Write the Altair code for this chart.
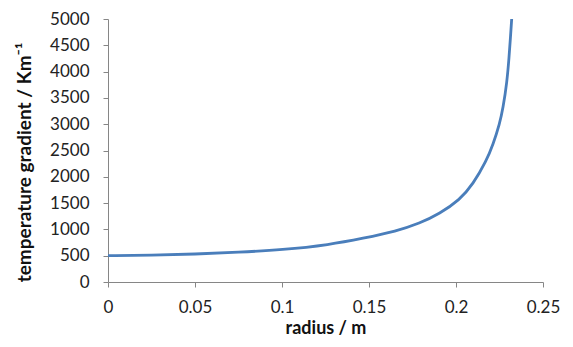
import altair as alt
import pandas as pd

radius = [0, 0.025, 0.05, 0.075, 0.1, 0.1274, 0.1466, 0.1657, 0.1791, 0.1906,
          0.2021, 0.2098, 0.2175, 0.2213, 0.2251, 0.2270, 0.2293, 0.2305, 0.2313, 0.2320]
gradient = [500, 508, 530, 565, 611, 708, 830, 967, 1115, 1300,
            1560, 1860, 2306, 2614, 3010, 3300, 3800, 4275, 4650, 5000]

df = pd.DataFrame({"radius": radius, "gradient": gradient})

FONT = "Lato"
AXIS_COLOR = "#868686"

chart = alt.Chart(df).mark_line(
    color="#4A7EBB", strokeWidth=2.8, interpolate="basis", clip=True
).encode(
    x=alt.X("radius:Q",
            scale=alt.Scale(domain=[0, 0.25], nice=False, zero=False),
            axis=alt.Axis(title="radius / m", values=[0, 0.05, 0.1, 0.15, 0.2, 0.25],
                          format="~g", grid=False, domainColor=AXIS_COLOR, tickColor=AXIS_COLOR,
                          tickSize=5, labelPadding=12, labelFont=FONT, labelFontSize=17,
                          labelColor="#222222", titleFont=FONT, titleFontSize=18,
                          titleFontWeight="bold", titleColor="#111111", titleY=46,
                          titleBaseline="middle", labelFlush=False)),
    y=alt.Y("gradient:Q",
            scale=alt.Scale(domain=[0, 5000], nice=False),
            axis=alt.Axis(title="temperature gradient / Km⁻¹",
                          values=list(range(0, 5001, 500)), format="d",
                          grid=False, domainColor=AXIS_COLOR, tickColor=AXIS_COLOR,
                          tickSize=5, labelPadding=14, labelFont=FONT, labelFontSize=17,
                          labelColor="#222222", titleFont=FONT, titleFontSize=19,
                          titleFontWeight="bold", titleColor="#111111",
                          titleX=-84, titleY=143, titleAlign="center",
                          titleBaseline="middle", titleAngle=270, labelFlush=False)),
).properties(
    width=435, height=263,
    autosize=alt.AutoSizeParams(type="none"),
    padding={"left": 100, "top": 11, "right": 22, "bottom": 57},
).configure_view(stroke=None)

chart.save("out.html", embed_options={"renderer": "svg", "actions": False})
